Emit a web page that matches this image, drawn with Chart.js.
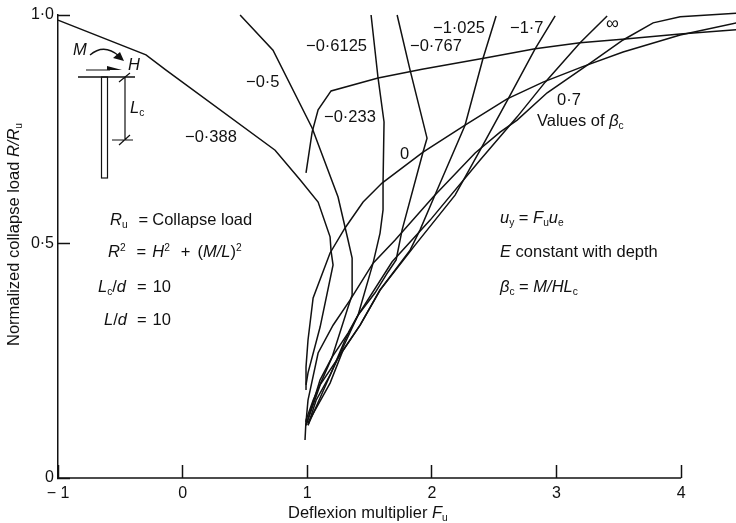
<!DOCTYPE html>
<html>
<head>
<meta charset="utf-8">
<title>Collapse load</title>
<script src="https://cdn.jsdelivr.net/npm/chart.js@4"></script>
<style>
html, body { margin: 0; padding: 0; background: #fff; }
#wrap { position: relative; width: 736px; height: 523px; }
</style>
</head>
<body>
<div id="wrap"><canvas id="chart"></canvas></div>
<script>
// Values of beta_c, each curve
const seriesNames = ['-0.388', '-0.5', '-0.6125', '-0.767', '-1.025', '-1.7', 'inf', '-0.233', '0', '0.7'];

const x388 = [-1, -0.294, -0.133, 0.742, 0.942, 1.087, 1.183, 1.191, 1.207, 1.103, 1.006, 0.99];
const y388 = [0.989, 0.914, 0.881, 0.708, 0.644, 0.596, 0.521, 0.49, 0.46, 0.326, 0.227, 0.201];
const x500 = [0.461, 0.725, 1.039, 1.247, 1.327, 1.36, 1.36, 1.327, 1.199, 1.047, 0.99, 0.982];
const y500 = [1, 0.924, 0.756, 0.607, 0.514, 0.475, 0.395, 0.369, 0.261, 0.168, 0.125, 0.082];
const x6125 = [1.512, 1.568, 1.616, 1.608, 1.608, 1.584, 1.528, 1.408, 1.303, 1.183, 1.071, 1.006];
const y6125 = [1, 0.864, 0.769, 0.637, 0.579, 0.529, 0.464, 0.352, 0.298, 0.222, 0.168, 0.114];
const x767 = [1.721, 1.825, 1.961, 1.929, 1.761, 1.713, 1.648, 1.544, 1.408, 1.327, 1.199, 1.103, 0.99];
const y767 = [1, 0.881, 0.734, 0.704, 0.536, 0.471, 0.445, 0.4, 0.352, 0.313, 0.261, 0.212, 0.114];
const x1025 = [2.515, 2.411, 2.266, 2.042, 1.905, 1.825, 1.584, 1.424, 1.287, 1.183, 1.006];
const y1025 = [0.998, 0.907, 0.762, 0.622, 0.536, 0.492, 0.406, 0.33, 0.276, 0.205, 0.119];
const x17 = [2.989, 2.828, 2.612, 2.387, 2.186, 1.865, 1.584, 1.424, 1.103, 0.99];
const y17 = [0.998, 0.927, 0.819, 0.708, 0.611, 0.503, 0.406, 0.33, 0.201, 0.114];
const xInf = [3.406, 3.189, 2.909, 2.684, 2.387, 1.986, 1.681, 1.408, 1.183, 1.006];
const yInf = [0.998, 0.94, 0.855, 0.78, 0.687, 0.557, 0.467, 0.352, 0.222, 0.114];
const x233 = [0.99, 1.039, 1.087, 1.191, 1.568, 1.921, 2.427, 2.828, 3.189, 3.551, 3.992, 4.441];
const y233 = [0.659, 0.747, 0.795, 0.836, 0.864, 0.883, 0.907, 0.927, 0.94, 0.948, 0.959, 0.968];
const x0 = [0.99, 0.99, 1.006, 1.047, 1.183, 1.303, 1.448, 1.6, 1.929, 2.266, 2.604, 2.892, 3.205, 3.534, 3.992, 4.441];
const y0 = [0.19, 0.24, 0.298, 0.389, 0.486, 0.54, 0.596, 0.637, 0.704, 0.762, 0.819, 0.855, 0.888, 0.92, 0.957, 0.983];
const x07 = [0.99, 1.006, 1.087, 1.207, 1.343, 1.528, 1.705, 2.01, 2.347, 2.547, 2.684, 2.925, 3.27, 3.534, 3.775, 3.992, 4.441];
const y07 = [0.121, 0.168, 0.27, 0.33, 0.384, 0.464, 0.514, 0.607, 0.702, 0.747, 0.773, 0.832, 0.896, 0.946, 0.983, 0.996, 1.004];

const curvesX = [x388, x500, x6125, x767, x1025, x17, xInf, x233, x0, x07];
const curvesY = [y388, y500, y6125, y767, y1025, y17, yInf, y233, y0, y07];

const xTickValues = [-1, 0, 1, 2, 3, 4];
const xTickLabels = ['− 1', '0', '1', '2', '3', '4'];
// the 0·5 tick sits a little high in the scan
const yTickValues = [0, 0.507, 1];
const yTickLabels = ['0', '0·5', '1·0'];

const FONT = '"Liberation Sans", Arial, sans-serif';
const INK = '#111';
const TEXT_SIZE = 16.5;

// writes a run list: plain, 'i' italic, 's' subscript, 'u' superscript, a number is a gap
function rich(ctx, x, y, runs, size) {
    runs.forEach(r => {
        if (typeof r === 'number') { x += r; return; }
        const text = r[0], st = r[1] || '';
        let fs = size, dy = 0;
        if (st.includes('s')) { fs = size * 0.62; dy = 3; }
        if (st.includes('u')) { fs = size * 0.62; dy = -6; }
        ctx.font = (st.includes('i') ? 'italic ' : '') + fs + 'px ' + FONT;
        ctx.fillText(text, x, y + dy);
        x += ctx.measureText(text).width;
    });
}

const annotations = {
    id: 'annotations',
    afterDraw(chart) {
        const ctx = chart.ctx;
        const sx = chart.scales.x;
        const sy = chart.scales.y;
        ctx.save();
        ctx.fillStyle = INK;
        ctx.strokeStyle = INK;
        ctx.textBaseline = 'alphabetic';
        ctx.textAlign = 'left';

        // x axis stops at 4, the curves go on past it
        ctx.lineWidth = 1.5;
        ctx.beginPath();
        ctx.moveTo(sx.getPixelForValue(-1), sy.getPixelForValue(0));
        ctx.lineTo(sx.getPixelForValue(4), sy.getPixelForValue(0));
        ctx.stroke();

        // curve labels
        const curveLabels = [
            ['−0·388', 185, 142], ['−0·5', 246, 87], ['−0·6125', 306, 51], ['−0·767', 410, 51],
            ['−1·025', 433, 33], ['−1·7', 510, 33], ['−0·233', 324, 122], ['0', 400, 159], ['0·7', 557, 105]
        ];
        curveLabels.forEach(l => rich(ctx, l[1], l[2], [[l[0]]], TEXT_SIZE));
        rich(ctx, 606, 29, [['∞']], 18);
        rich(ctx, 537, 126, [['Values of '], ['β', 'i'], ['c', 's']], TEXT_SIZE);

        // notes on the left
        rich(ctx, 110, 225, [['R', 'i'], ['u', 's'], 11, ['='], 4, ['Collapse load']], TEXT_SIZE);
        rich(ctx, 108, 257, [['R', 'i'], ['2', 'u'], 11, ['='], 6, ['H', 'i'], ['2', 'u'], 11, ['+'], 7, ['('], ['M/L', 'i'], [')'], ['2', 'u']], TEXT_SIZE);
        rich(ctx, 98, 292, [['L', 'i'], ['c', 's'], ['/'], ['d', 'i'], 11, ['='], 6, ['10']], TEXT_SIZE);
        rich(ctx, 104, 325, [['L', 'i'], ['/'], ['d', 'i'], 10, ['='], 6, ['10']], TEXT_SIZE);

        // notes on the right
        rich(ctx, 500, 223, [['u', 'i'], ['y', 's'], [' = '], ['F', 'i'], ['u', 's'], ['u', 'i'], ['e', 's']], TEXT_SIZE);
        rich(ctx, 500, 257, [['E', 'i'], [' constant with depth']], TEXT_SIZE);
        rich(ctx, 500, 292, [['β', 'i'], ['c', 's'], [' = '], ['M/HL', 'i'], ['c', 's']], TEXT_SIZE);

        // axis titles
        rich(ctx, 288, 518, [['Deflexion multiplier '], ['F', 'i'], ['u', 's']], TEXT_SIZE);
        ctx.save();
        ctx.translate(19, 346);
        ctx.rotate(-Math.PI / 2);
        rich(ctx, 0, 0, [['Normalized collapse load '], ['R/R', 'i'], ['u', 's']], TEXT_SIZE);
        ctx.restore();

        // pile sketch
        rich(ctx, 73, 55, [['M', 'i']], TEXT_SIZE);
        rich(ctx, 128, 70, [['H', 'i']], TEXT_SIZE);
        rich(ctx, 130, 113, [['L', 'i'], ['c', 's']], TEXT_SIZE);
        ctx.lineWidth = 1.6;
        ctx.beginPath();
        ctx.moveTo(78, 77); ctx.lineTo(135, 77);
        ctx.stroke();
        ctx.lineWidth = 1.2;
        ctx.strokeRect(101.5, 77, 6, 101);
        ctx.beginPath();
        ctx.moveTo(86, 70); ctx.lineTo(110, 70);
        ctx.moveTo(125, 77); ctx.lineTo(125, 140);
        ctx.moveTo(112, 140); ctx.lineTo(133, 140);
        ctx.moveTo(119, 82); ctx.lineTo(130, 73);
        ctx.moveTo(119, 145); ctx.lineTo(130, 135);
        ctx.stroke();
        ctx.lineWidth = 1.4;
        ctx.beginPath();
        ctx.moveTo(90, 55); ctx.quadraticCurveTo(104, 43, 119, 56);
        ctx.stroke();
        ctx.beginPath();
        ctx.moveTo(107, 66); ctx.lineTo(122, 70); ctx.lineTo(107, 70); ctx.closePath();
        ctx.moveTo(124, 61); ctx.lineTo(113, 58); ctx.lineTo(120, 52); ctx.closePath();
        ctx.fill();
        ctx.restore();
    }
};

const datasets = seriesNames.map((name, i) => ({
    label: name,
    data: curvesX[i].map((x, j) => ({ x: x, y: curvesY[i][j] })),
    borderColor: INK,
    borderWidth: 1.5,
    pointRadius: 0,
    tension: 0,
    fill: false,
    clip: false
}));

const options = {
    responsive: false,
    animation: false,
    layout: { padding: { top: 15, right: 0, bottom: 0, left: 0 } },
    plugins: { legend: { display: false }, tooltip: { enabled: false } },
    scales: {
        x: {
            type: 'linear',
            min: -1,
            max: 4.44,
            afterBuildTicks: s => { s.ticks = xTickValues.map(v => ({ value: v })); },
            afterFit: s => { s.height = 45; },
            border: { display: false },
            grid: { drawOnChartArea: false, tickLength: -13, tickColor: INK, tickWidth: 1.5 },
            ticks: {
                padding: 19,
                maxRotation: 0,
                color: INK,
                font: { family: FONT, size: 16 },
                callback: (v, i) => xTickLabels[i]
            }
        },
        y: {
            type: 'linear',
            min: 0,
            max: 1,
            afterBuildTicks: s => { s.ticks = yTickValues.map(v => ({ value: v })); },
            afterFit: s => { s.width = 58; s.paddingTop = 0; s.paddingBottom = 0; },
            border: { display: true, color: INK, width: 1.5 },
            grid: { drawOnChartArea: false, tickLength: -12, tickColor: INK, tickWidth: 1.5 },
            ticks: {
                padding: 16,
                color: INK,
                font: { family: FONT, size: 16 },
                callback: (v, i) => yTickLabels[i]
            }
        }
    }
};

const canvas = document.getElementById('chart');
canvas.width = 736;
canvas.height = 523;
new Chart(canvas.getContext('2d'), {
    type: 'line',
    data: { datasets: datasets },
    options: options,
    plugins: [annotations]
});
</script>
</body>
</html>
